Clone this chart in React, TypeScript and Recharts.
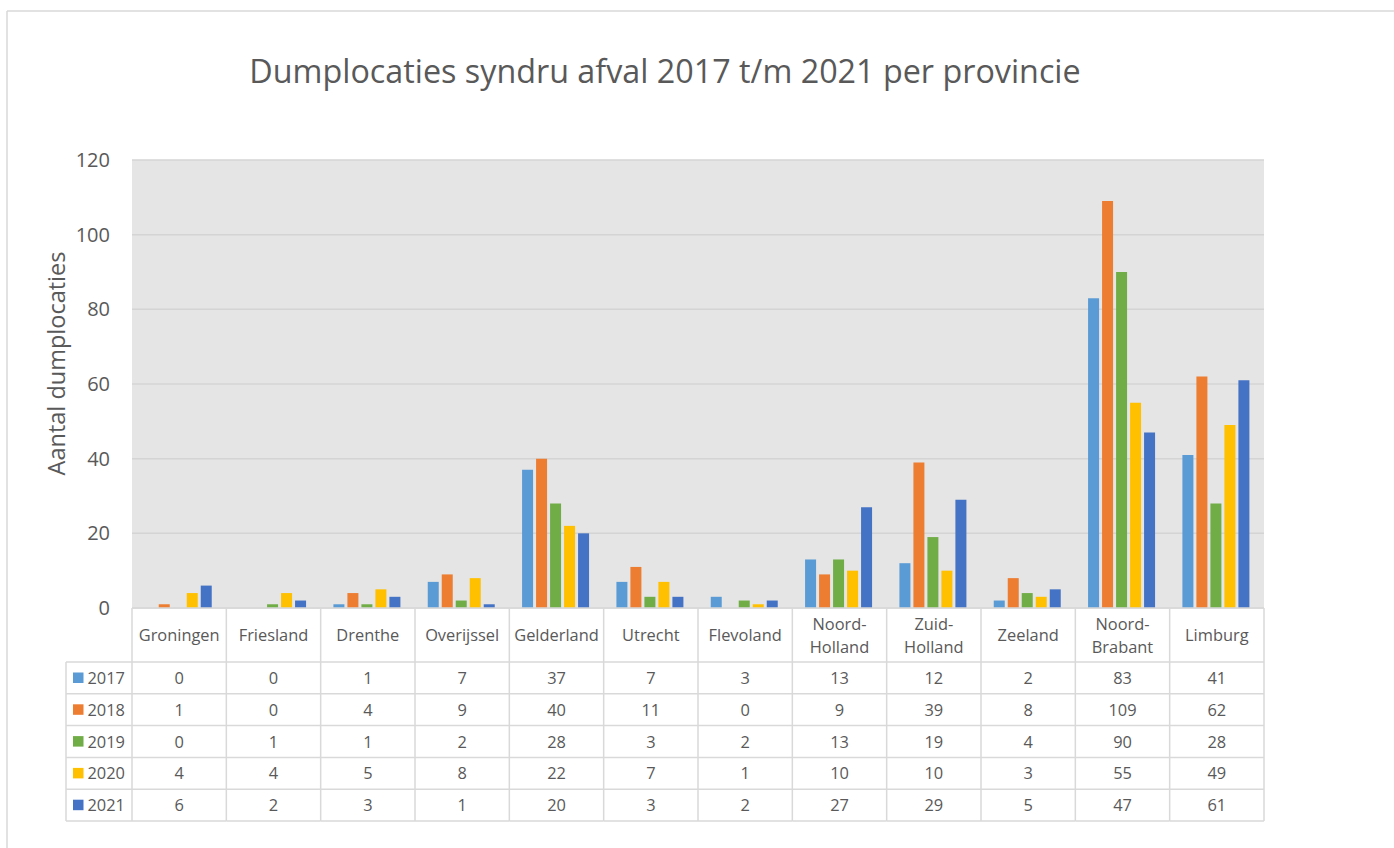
import React from 'react';
import { BarChart, Bar, XAxis, YAxis, CartesianGrid } from 'recharts';

const categories = ['Groningen', 'Friesland', 'Drenthe', 'Overijssel', 'Gelderland', 'Utrecht', 'Flevoland', 'Noord-Holland', 'Zuid-Holland', 'Zeeland', 'Noord-Brabant', 'Limburg'];
const seriesNames = ['2017', '2018', '2019', '2020', '2021'];
const v2017 = [0, 0, 1, 7, 37, 7, 3, 13, 12, 2, 83, 41];
const v2018 = [1, 0, 4, 9, 40, 11, 0, 9, 39, 8, 109, 62];
const v2019 = [0, 1, 1, 2, 28, 3, 2, 13, 19, 4, 90, 28];
const v2020 = [4, 4, 5, 8, 22, 7, 1, 10, 10, 3, 55, 49];
const v2021 = [6, 2, 3, 1, 20, 3, 2, 27, 29, 5, 47, 61];
const yTicks = [0, 20, 40, 60, 80, 100, 120];
const title = 'Dumplocaties syndru afval 2017 t/m 2021 per provincie';
const yLabel = 'Aantal dumplocaties';

const seriesValues = [v2017, v2018, v2019, v2020, v2021];
const colors = ['#5B9BD5', '#ED7D31', '#70AD47', '#FFC000', '#4472C4'];

const data = categories.map((c, i) => {
  const row: any = { name: c };
  seriesNames.forEach((s, k) => { row[s] = seriesValues[k][i]; });
  return row;
});

const W = 1394;
const H = 848;
const PLOT_LEFT = 132;
const PLOT_RIGHT = 1264;
const PLOT_TOP = 160;
const PLOT_BOTTOM = 608;
const COL_W = (PLOT_RIGHT - PLOT_LEFT) / categories.length;
const HEADER_H = 54;
const ROW_H = 31.8;
const LEGEND_W = 66;
const FONT = '"Open Sans", sans-serif';
const TEXT = '#595959';
const LINE = '#d9d9d9';
const CELL_FS = 16.4;

const TableTick = (props: any) => {
  const { x, y, payload } = props;
  const i = payload?.index ?? props.index ?? 0;
  const label: string = categories[i] ?? String(payload?.value);
  const left = x - COL_W / 2;
  const right = x + COL_W / 2;
  const parts = label.includes('-') ? [label.split('-')[0] + '-', label.split('-').slice(1).join('-')] : [label];
  const tableBottom = y + HEADER_H + ROW_H * seriesNames.length;
  return (
    <g>
      {parts.length === 1 ? (
        <text x={x} y={y + HEADER_H / 2 + 6} textAnchor="middle" fontSize={CELL_FS} fill={TEXT} fontFamily={FONT}>{parts[0]}</text>
      ) : (
        <>
          <text x={x} y={y + 22} textAnchor="middle" fontSize={CELL_FS} fill={TEXT} fontFamily={FONT}>{parts[0]}</text>
          <text x={x} y={y + 45} textAnchor="middle" fontSize={CELL_FS} fill={TEXT} fontFamily={FONT}>{parts[1]}</text>
        </>
      )}
      {seriesNames.map((s, k) => {
        const top = y + HEADER_H + ROW_H * k;
        return (
          <g key={s}>
            <line x1={i === 0 ? left - LEGEND_W : left} x2={right} y1={top} y2={top} stroke={LINE} strokeWidth={1.5} />
            <text x={x} y={top + ROW_H / 2 + 6} textAnchor="middle" fontSize={CELL_FS} fill={TEXT} fontFamily={FONT}>{seriesValues[k][i]}</text>
            {i === 0 && (
              <>
                <rect x={left - LEGEND_W + 7} y={top + 10.5} width={10.5} height={10.5} fill={colors[k]} />
                <text x={left - LEGEND_W + 21.5} y={top + ROW_H / 2 + 6} fontSize={CELL_FS} fill={TEXT} fontFamily={FONT}>{s}</text>
              </>
            )}
          </g>
        );
      })}
      <line x1={i === 0 ? left - LEGEND_W : left} x2={right} y1={tableBottom} y2={tableBottom} stroke={LINE} strokeWidth={1.5} />
      <line x1={right} x2={right} y1={y} y2={tableBottom} stroke={LINE} strokeWidth={1.5} />
      {i === 0 && (
        <>
          <line x1={left} x2={left} y1={y} y2={tableBottom} stroke={LINE} strokeWidth={1.5} />
          <line x1={left - LEGEND_W} x2={left - LEGEND_W} y1={y + HEADER_H} y2={tableBottom} stroke={LINE} strokeWidth={1.5} />
        </>
      )}
    </g>
  );
};

export default function App() {
  return (
    <div style={{ position: 'absolute', left: 0, top: 0, width: W, height: H, background: '#fff', overflow: 'hidden' }}>
      <svg width={W} height={H} style={{ position: 'absolute', left: 0, top: 0 }}>
        <line x1={7} x2={7} y1={11} y2={H + 10} stroke={LINE} strokeWidth={1.5} />
        <line x1={7} x2={W + 10} y1={11} y2={11} stroke={LINE} strokeWidth={1.5} />
        <text x={665} y={83} textAnchor="middle" fontSize={32.3} fill={TEXT} fontFamily={FONT}>{title}</text>
        <text x={65} y={363.5} textAnchor="middle" fontSize={23.5} fill={TEXT} fontFamily={FONT} transform="rotate(-90 65 363.5)">{yLabel}</text>
      </svg>
      <div style={{ position: 'absolute', left: 0, top: 0 }}>
        <BarChart
          width={W}
          height={H}
          data={data}
          margin={{ top: PLOT_TOP, left: PLOT_LEFT - 60, right: W - PLOT_RIGHT, bottom: H - PLOT_BOTTOM - 30 }}
          barCategoryGap="13.5%"
          barGap={3}
        >
          <CartesianGrid vertical={false} fill="#e5e5e5" stroke="#d4d4d4" strokeWidth={1.5} />
          <XAxis
            dataKey="name"
            interval={0}
            tickLine={false}
            tickSize={0}
            tickMargin={0}
            axisLine={{ stroke: LINE, strokeWidth: 1.5 }}
            height={30}
            tick={(p: any) => <TableTick {...p} />}
          />
          <YAxis
            domain={[0, 120]}
            ticks={yTicks}
            axisLine={false}
            tickLine={false}
            tickSize={0}
            tickMargin={22}
            width={60}
            tick={{ fontSize: 20, fill: TEXT, fontFamily: FONT }}
          />
          {seriesNames.map((s, k) => (
            <Bar key={s} dataKey={s} fill={colors[k]} isAnimationActive={false} />
          ))}
        </BarChart>
      </div>
    </div>
  );
}
